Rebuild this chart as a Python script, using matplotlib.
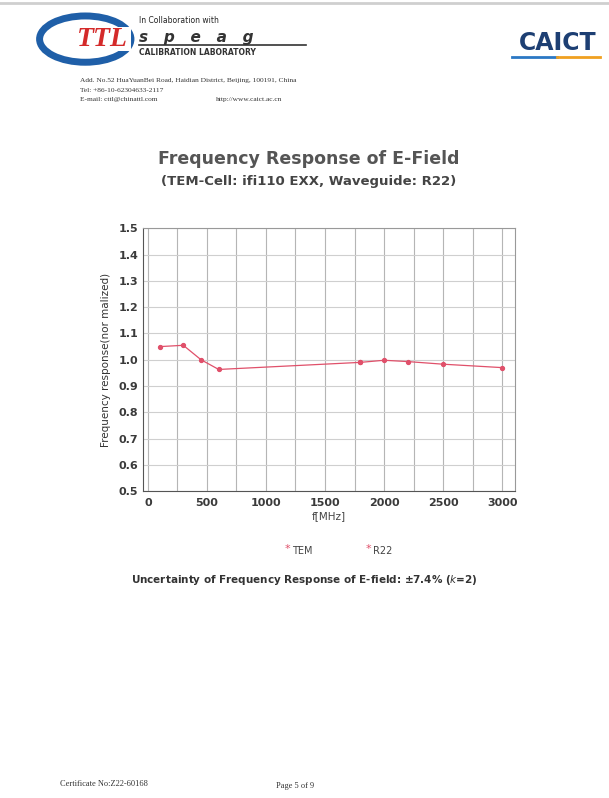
import matplotlib.pyplot as plt
from matplotlib.patches import Ellipse, Rectangle

# Data
tem_freq = [100, 300, 450, 600, 1800]
tem_resp = [1.05, 1.055, 1.0, 0.963, 0.99]
r22_freq = [1800, 2000, 2200, 2500, 3000]
r22_resp = [0.99, 0.998, 0.993, 0.983, 0.97]
x_ticks = [0, 500, 1000, 1500, 2000, 2500, 3000]
y_ticks = [0.5, 0.6, 0.7, 0.8, 0.9, 1.0, 1.1, 1.2, 1.3, 1.4, 1.5]

fig = plt.figure(figsize=(6.09, 7.98), dpi=100)
fig.patch.set_facecolor('white')

# scan border on top
fig.add_artist(plt.Line2D([0, 1], [0.996, 0.996], color='#cfcfcf', lw=2))

# ---- header: TTL logo
fig.add_artist(Ellipse((0.14, 0.951), 0.15, 0.058, facecolor='none',
                       edgecolor='#1f5fa8', lw=5))
fig.add_artist(Rectangle((0.125, 0.936), 0.09, 0.03, facecolor='white',
                         edgecolor='none'))
fig.text(0.168, 0.951, 'TTL', color='#d42a2a', fontsize=20, style='italic',
         weight='bold', family='Liberation Serif', ha='center', va='center')
fig.text(0.229, 0.971, 'In Collaboration with', fontsize=5.5, color='#222')
fig.text(0.229, 0.947, 's   p   e   a   g', fontsize=11, weight='bold',
         style='italic', color='#333')
fig.add_artist(plt.Line2D([0.229, 0.502], [0.944, 0.944], color='#333', lw=1.2))
fig.text(0.229, 0.931, 'CALIBRATION LABORATORY', fontsize=5.5, weight='bold',
         color='#333')

# CAICT logo
fig.text(0.915, 0.946, 'CAICT', fontsize=17, weight='bold', color='#1d3f73',
         ha='center', va='center')
fig.add_artist(plt.Line2D([0.84, 0.915], [0.929, 0.929], color='#2b78c4', lw=2))
fig.add_artist(plt.Line2D([0.915, 0.985], [0.929, 0.929], color='#f0a020', lw=2))

# address
addr_font = dict(fontsize=5.3, family='Liberation Serif', color='#333')
fig.text(0.132, 0.897, 'Add. No.52 HuaYuanBei Road, Haidian District, Beijing, 100191, China', **addr_font)
fig.text(0.132, 0.885, 'Tel: +86-10-62304633-2117', **addr_font)
fig.text(0.132, 0.873, 'E-mail: cttl@chinattl.com', **addr_font)
fig.text(0.355, 0.873, 'http://www.caict.ac.cn', **addr_font)

# ---- titles
fig.text(0.507, 0.801, 'Frequency Response of E-Field', fontsize=12.5,
         weight='bold', color='#555', ha='center', va='center')
fig.text(0.507, 0.773, '(TEM-Cell: ifi110 EXX, Waveguide: R22)', fontsize=9.5,
         weight='bold', color='#444', ha='center', va='center')

# ---- chart
ax = fig.add_axes([0.235, 0.3847, 0.611, 0.329])
line_col = '#e0506a'
ax.plot(tem_freq, tem_resp, color=line_col, lw=0.9, marker='o', ms=2.8,
        label='TEM')
ax.plot(r22_freq, r22_resp, color=line_col, lw=0.9, marker='o', ms=2.8,
        label='R22')

ax.set_xlim(-40, 3110)
ax.set_ylim(0.5, 1.5)
ax.set_xticks(x_ticks)
ax.set_xticks(range(250, 3001, 500), minor=True)
ax.set_yticks(y_ticks)
ax.set_yticklabels(['%.1f' % v for v in y_ticks])
ax.grid(True, which='both', axis='x', color='#b5b5b5', lw=0.8)
ax.grid(True, axis='y', color='#cfcfcf', lw=0.8)
ax.tick_params(which='both', length=0, labelsize=8, labelcolor='#3a3a3a')
ax.tick_params(axis='x', pad=5)
for lab in ax.get_xticklabels() + ax.get_yticklabels():
    lab.set_fontweight('bold')
for s in ax.spines.values():
    s.set_color('#999')
ax.spines['bottom'].set_color('#555')
ax.spines['left'].set_color('#555')
ax.set_xlabel('f[MHz]', fontsize=7.5, color='#444', labelpad=2)
ax.set_ylabel('Frequency response(nor malized)', fontsize=7.5, color='#333',
              labelpad=5)

# legend below
fig.text(0.476, 0.312, '*', color=line_col, fontsize=8, ha='right', va='center')
fig.text(0.48, 0.310, 'TEM', color='#444', fontsize=7, va='center')
fig.text(0.609, 0.312, '*', color=line_col, fontsize=8, ha='right', va='center')
fig.text(0.613, 0.310, 'R22', color='#444', fontsize=7, va='center')

fig.text(0.5, 0.273, 'Uncertainty of Frequency Response of E-field: \u00b17.4% ($\\mathbf{\\it{k}}$=2)',
         fontsize=7.5, weight='bold', color='#333', ha='center', va='center')

# footer
fig.text(0.099, 0.015, 'Certificate No:Z22-60168', fontsize=6,
         family='Liberation Serif', color='#333')
fig.text(0.453, 0.013, 'Page 5 of 9', fontsize=6, family='Liberation Serif',
         color='#333')

fig.savefig('out.png', dpi=100, facecolor='white')
